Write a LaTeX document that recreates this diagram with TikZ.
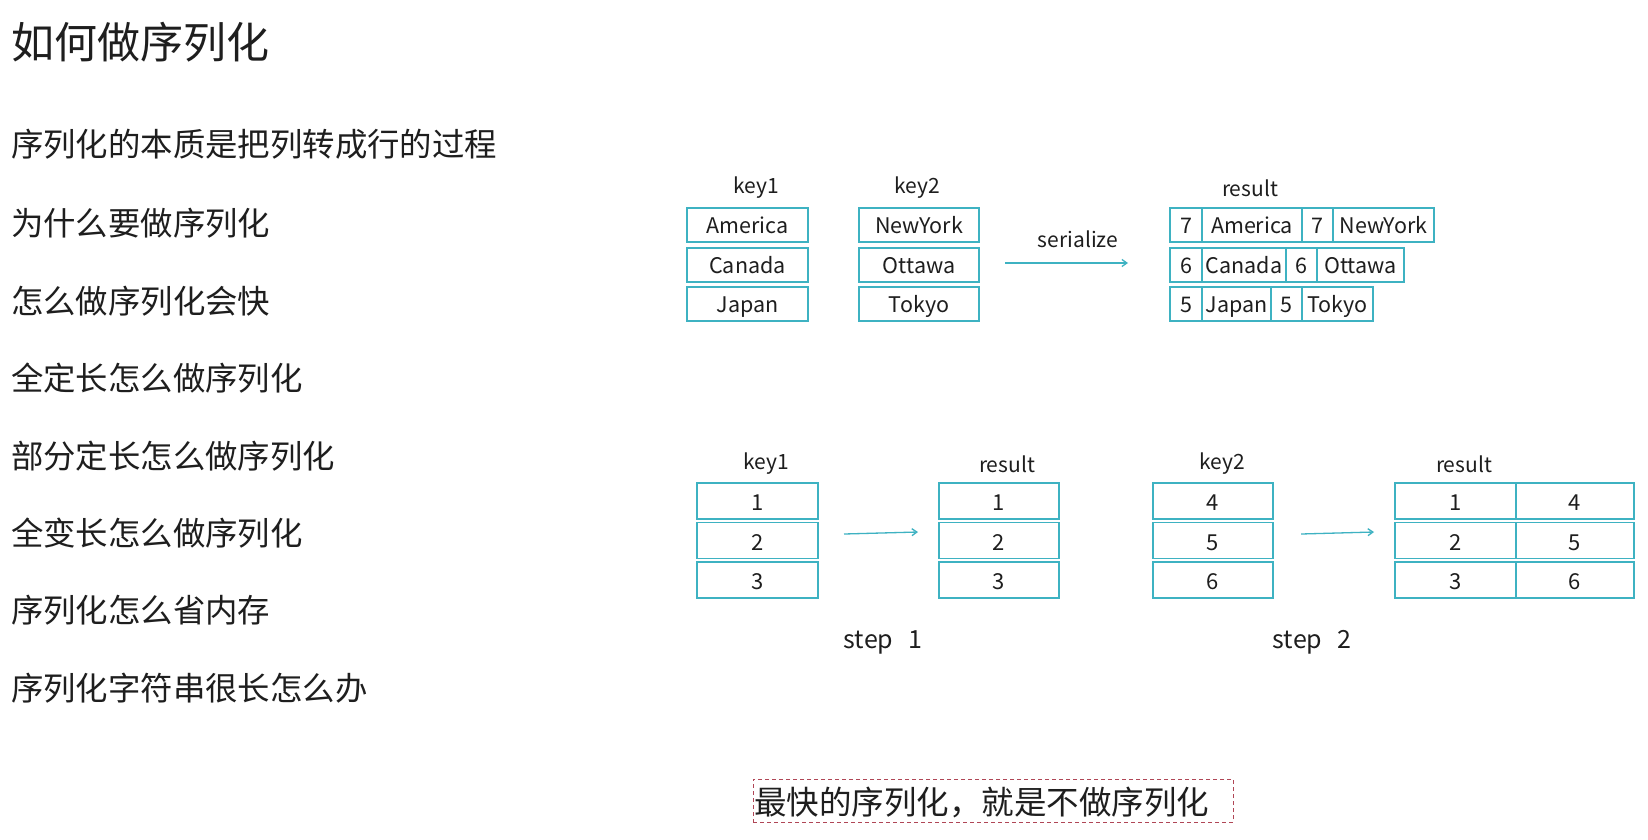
\documentclass[tikz,border=0pt]{standalone}
\usepackage{fontspec}
\newfontfamily\cjk{Noto Sans CJK SC}
\usetikzlibrary{arrows.meta,calc}
\definecolor{tealb}{RGB}{62,178,194}
\definecolor{txt}{RGB}{30,30,30}
\definecolor{dashred}{RGB}{176,70,86}
\begin{document}
\begin{tikzpicture}[x=1pt,y=-1pt,
  every node/.style={text=txt},
  cell/.style={draw=tealb, line width=1.8pt, inner sep=0pt, text height=19pt, text depth=2pt, font=\cjk\fontsize{21.5}{25}\selectfont},
  toprow/.style={cell, minimum height=34pt},
  botrow/.style={cell, minimum height=36pt, text height=20pt, text depth=1pt, font=\cjk\fontsize{22}{26}\selectfont},
  lbl/.style={inner sep=0pt, font=\cjk\fontsize{21}{25}\selectfont},
  item/.style={anchor=west, inner sep=0pt, font=\cjk\fontsize{32.4}{38}\selectfont},
  steplbl/.style={inner sep=0pt, font=\cjk\fontsize{25}{30}\selectfont},
  arr/.style={draw=tealb, line width=1.3pt, -{Straight Barb[length=5pt,width=7pt]}}]
\useasboundingbox (0,0) rectangle (1648,839);
\fill[white] (0,0) rectangle (1648,839);

% left text
\node[item, font=\cjk\fontsize{43}{49}\selectfont] (title) at (11,42) {如何做序列化};
\node[item] (i1) at (11,144) {序列化的本质是把列转成行的过程};
\node[item] (i2) at (11,223) {为什么要做序列化};
\node[item] (i3) at (11,301) {怎么做序列化会快};
\node[item] (i4) at (11,378) {全定长怎么做序列化};
\node[item] (i5) at (11,456) {部分定长怎么做序列化};
\node[item] (i6) at (11,533) {全变长怎么做序列化};
\node[item] (i7) at (11,610) {序列化怎么省内存};
\node[item] (i8) at (11,688) {序列化字符串很长怎么办};

% top diagram
\node[lbl] (tk1) at (756,188) {key1};
\node[lbl] (tk2) at (917,188) {key2};
\node[lbl] (tres) at (1250,188) {result};
\node[toprow, minimum width=121pt] (a1) at (747.5,225) {America};
\node[toprow, minimum width=121pt] (a2) at (747.5,265) {Canada};
\node[toprow, minimum width=121pt] (a3) at (747.5,304) {Japan};
\node[toprow, minimum width=120pt] (b1) at (919,225) {NewYork};
\node[toprow, minimum width=120pt] (b2) at (919,265) {Ottawa};
\node[toprow, minimum width=120pt] (b3) at (919,304) {Tokyo};

\node[toprow, minimum width=32pt] (r11) at (1186,225) {7};
\node[toprow, minimum width=100pt] (r12) at (1252,225) {America};
\node[toprow, minimum width=31pt] (r13) at (1317.5,225) {7};
\node[toprow, minimum width=101pt] (r14) at (1383.5,225) {NewYork};
\node[toprow, minimum width=32pt] (r21) at (1186,265) {6};
\node[toprow, minimum width=84pt] (r22) at (1244,265) {Canada};
\node[toprow, minimum width=31pt] (r23) at (1301.5,265) {6};
\node[toprow, minimum width=87pt] (r24) at (1360.5,265) {Ottawa};
\node[toprow, minimum width=32pt] (r31) at (1186,304) {5};
\node[toprow, minimum width=69pt] (r32) at (1236.5,304) {Japan};
\node[toprow, minimum width=31pt] (r33) at (1286.5,304) {5};
\node[toprow, minimum width=71pt] (r34) at (1337.5,304) {Tokyo};

\node[lbl] (ser) at (1078,239) {serialize};
\coordinate (s0) at (1005,263);
\coordinate (s1) at (1128,263);
\draw[arr] (s0) -- (s1);

% bottom diagram
\node[lbl] (bk1) at (766,464) {key1};
\node[lbl] (bres1) at (1007,464) {result};
\node[lbl] (bk2) at (1222,464) {key2};
\node[lbl] (bres2) at (1464,464) {result};

\node[botrow, minimum width=121pt] (p1) at (757.5,501) {1};
\node[botrow, minimum width=121pt] (p2) at (757.5,540.5) {2};
\node[botrow, minimum width=121pt] (p3) at (757.5,580) {3};
\node[botrow, minimum width=120pt] (q1) at (999,501) {1};
\node[botrow, minimum width=120pt] (q2) at (999,540.5) {2};
\node[botrow, minimum width=120pt] (q3) at (999,580) {3};
\node[botrow, minimum width=120pt] (u1) at (1213,501) {4};
\node[botrow, minimum width=120pt] (u2) at (1213,540.5) {5};
\node[botrow, minimum width=120pt] (u3) at (1213,580) {6};
\node[botrow, minimum width=121pt] (v11) at (1455.5,501) {1};
\node[botrow, minimum width=121pt] (v21) at (1455.5,540.5) {2};
\node[botrow, minimum width=121pt] (v31) at (1455.5,580) {3};
\node[botrow, minimum width=118pt] (v12) at (1575,501) {4};
\node[botrow, minimum width=118pt] (v22) at (1575,540.5) {5};
\node[botrow, minimum width=118pt] (v32) at (1575,580) {6};

\coordinate (t0) at (844,534);
\coordinate (t1) at (918,532);
\draw[arr] (t0) -- (t1);
\coordinate (w0) at (1301,534);
\coordinate (w1) at (1374,532);
\draw[arr] (w0) -- (w1);

\node[steplbl] (st1) at (883,642) {step\hspace{0.6em}1};
\node[steplbl] (st2) at (1312,642) {step\hspace{0.6em}2};

% dashed box
\node[draw=dashred, line width=1pt, dash pattern=on 4pt off 3pt, minimum width=480pt, minimum height=43pt, inner sep=0pt] (box) at (993,800.5) {};
\node[anchor=west, inner sep=0pt, font=\cjk\fontsize{32.5}{38}\selectfont] (motto) at (754,802) {最快的序列化，就是不做序列化};
\end{tikzpicture}
\end{document}
